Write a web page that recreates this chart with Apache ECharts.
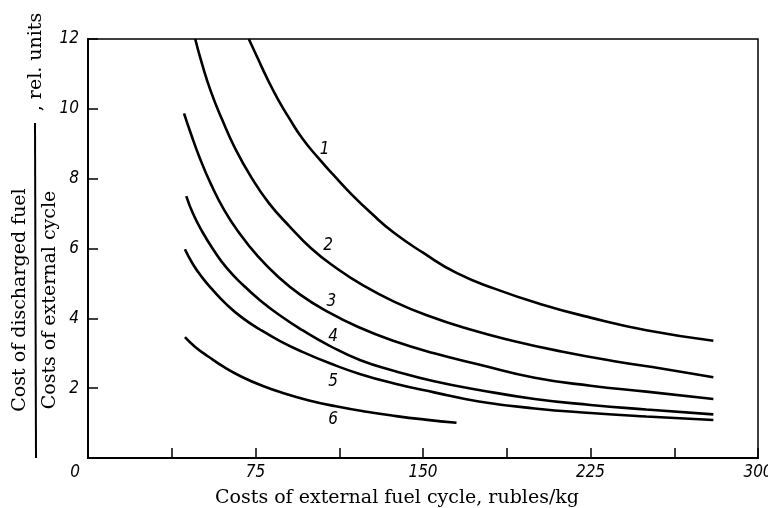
<!DOCTYPE html>
<html>
<head>
<meta charset="utf-8">
<script src="https://cdn.jsdelivr.net/npm/echarts@6/dist/echarts.min.js"></script>
<style>
  html, body { margin: 0; padding: 0; background: #fff; }
  #chart { width: 768px; height: 508px; }
</style>
</head>
<body>
<div id="chart"></div>
<script>
// Curves: [fuel cycle cost, relative cost]
const curve1 = [[72, 12], [76, 11.45], [80, 10.9], [85, 10.28], [90, 9.74], [96, 9.15], [103, 8.6], [110, 8.1], [118, 7.55], [127, 7.0], [137, 6.45], [150, 5.88], [165, 5.3], [182, 4.85], [202, 4.42], [225, 4.02], [250, 3.66], [280, 3.36]];
const curve2 = [[48, 12], [51, 11.3], [55, 10.5], [60, 9.7], [66, 8.85], [73, 8.05], [81, 7.3], [90, 6.65], [100, 6.0], [111, 5.45], [123, 4.95], [137, 4.48], [152, 4.08], [170, 3.7], [190, 3.36], [212, 3.05], [235, 2.78], [258, 2.55], [280, 2.31]];
const curve3 = [[43, 9.87], [46, 9.3], [50, 8.6], [55, 7.85], [61, 7.1], [68, 6.42], [76, 5.78], [85, 5.2], [95, 4.68], [107, 4.2], [121, 3.75], [137, 3.35], [155, 3.0], [175, 2.68], [200, 2.3], [225, 2.07], [250, 1.9], [280, 1.69]];
const curve4 = [[44, 7.5], [47, 7.0], [51, 6.5], [56, 5.98], [62, 5.45], [69, 4.98], [77, 4.52], [86, 4.08], [96, 3.66], [108, 3.22], [122, 2.8], [138, 2.48], [155, 2.2], [175, 1.95], [200, 1.69], [225, 1.52], [250, 1.39], [280, 1.25]];
const curve5 = [[43.4, 5.98], [47, 5.55], [51, 5.18], [56, 4.8], [62, 4.4], [69, 4.02], [77, 3.68], [86, 3.35], [96, 3.04], [108, 2.72], [122, 2.4], [138, 2.12], [155, 1.88], [175, 1.62], [200, 1.42], [225, 1.29], [250, 1.19], [280, 1.09]];
const curve6 = [[43.4, 3.46], [48, 3.18], [54, 2.9], [61, 2.6], [69, 2.32], [78, 2.07], [88, 1.85], [99, 1.65], [111, 1.48], [124, 1.33], [138, 1.2], [151, 1.1], [165, 1.01]];

const curves = [curve1, curve2, curve3, curve4, curve5, curve6];
const curveNames = ["1", "2", "3", "4", "5", "6"];
// where the number of each curve is written (data coordinates)
const curveLabelAt = [[106, 8.82], [107.5, 6.07], [109, 4.48], [109.7, 3.47], [109.7, 2.18], [109.7, 1.09]];

const xTicks = [0, 300, 37.5];   // min, max, interval (labels every 75)
const yTicks = [0, 12, 2];

const xName = "Costs of external fuel cycle, rubles/kg";
const yNumerator = "Cost of discharged fuel";
const yDenominator = "Costs of external cycle";
const yUnits = ", rel. units";

const numFont = "'Liberation Sans Narrow', 'DejaVu Sans Condensed', sans-serif";
const textFont = "'DejaVu Serif', 'Liberation Serif', serif";

const chart = echarts.init(document.getElementById("chart"), null, { renderer: "canvas" });

const series = curves.map((pts, i) => ({
  type: "line",
  name: curveNames[i],
  data: pts,
  smooth: 0.5,
  showSymbol: false,
  symbol: "none",
  lineStyle: { color: "#000", width: 2.6 },
  markPoint: {
    symbol: "circle",
    symbolSize: 0,
    silent: true,
    data: [{ coord: curveLabelAt[i] }],
    label: {
      show: true,
      formatter: curveNames[i],
      color: "#000",
      fontSize: 17,
      fontStyle: "italic",
      fontFamily: numFont,
    },
  },
}));

chart.setOption({
  backgroundColor: "#fff",
  animation: false,
  grid: {
    left: 88,
    right: 10,
    top: 39,
    bottom: 50,
    outerBoundsMode: "none",
    show: true,
    borderColor: "#000",
    borderWidth: 1.5,
  },
  xAxis: {
    type: "value",
    min: xTicks[0],
    max: xTicks[1],
    interval: xTicks[2],
    name: xName,
    nameLocation: "middle",
    nameGap: 31,
    nameTextStyle: {
      color: "#000",
      fontSize: 19,
      fontFamily: textFont,
      padding: [0, 52, 0, 0],
    },
    axisLine: { show: true, lineStyle: { color: "#000", width: 2 } },
    axisTick: { show: true, inside: true, length: 10, lineStyle: { color: "#000", width: 1.5 } },
    splitLine: { show: false },
    axisLabel: {
      color: "#000",
      fontSize: 17,
      fontStyle: "italic",
      fontFamily: numFont,
      margin: 6,
      formatter(v) {
        if (v === 0) return "{z|0}";
        return v % 75 === 0 ? String(v) : "";
      },
      rich: {
        z: { padding: [0, 26, 0, 0], fontSize: 17, fontStyle: "italic", fontFamily: numFont, color: "#000" },
      },
    },
  },
  yAxis: {
    type: "value",
    min: yTicks[0],
    max: yTicks[1],
    interval: yTicks[2],
    axisLine: { show: true, lineStyle: { color: "#000", width: 2 } },
    axisTick: { show: true, inside: true, length: 10, lineStyle: { color: "#000", width: 1.5 } },
    splitLine: { show: false },
    axisLabel: {
      color: "#000",
      fontSize: 17,
      fontStyle: "italic",
      fontFamily: numFont,
      margin: 9,
      formatter(v) {
        return v === 0 ? "" : String(v);
      },
    },
  },
  graphic: [
    {
      type: "text",
      x: 20,
      y: 300,
      rotation: Math.PI / 2,
      style: { text: yNumerator, fill: "#000", font: "19px " + textFont, align: "center", verticalAlign: "middle" },
    },
    {
      type: "text",
      x: 50,
      y: 300,
      rotation: Math.PI / 2,
      style: { text: yDenominator, fill: "#000", font: "19px " + textFont, align: "center", verticalAlign: "middle" },
    },
    {
      type: "line",
      shape: { x1: 35, y1: 123, x2: 36, y2: 458 },
      style: { stroke: "#000", lineWidth: 2 },
    },
    {
      type: "text",
      x: 36,
      y: 62,
      rotation: Math.PI / 2,
      style: { text: yUnits, fill: "#000", font: "19px " + textFont, align: "center", verticalAlign: "middle" },
    },
  ],
  series,
});
</script>
</body>
</html>
